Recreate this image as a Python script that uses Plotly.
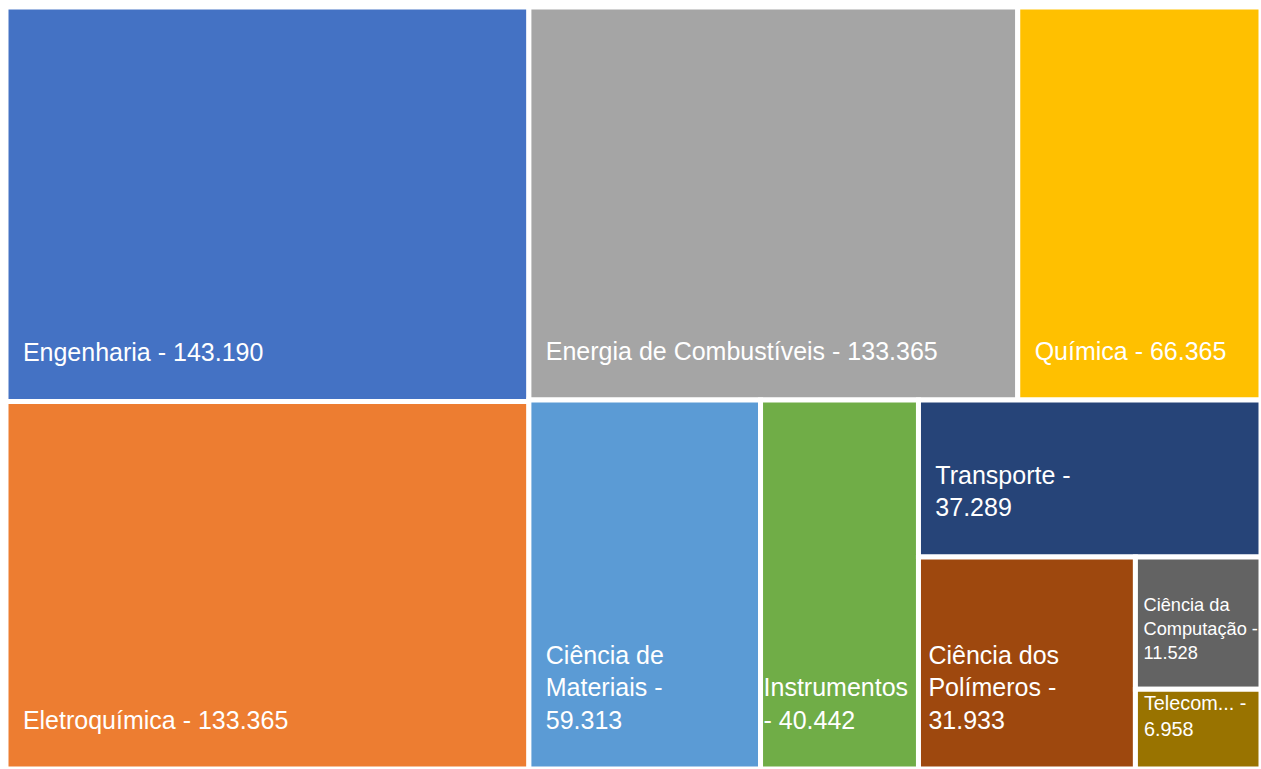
import plotly.graph_objects as go

# Área de pesquisa e número de publicações
areas = [
    "Engenharia",
    "Eletroquímica",
    "Energia de Combustíveis",
    "Química",
    "Ciência de Materiais",
    "Instrumentos",
    "Transporte",
    "Ciência dos Polímeros",
    "Ciência da Computação",
    "Telecomunicações",
]
publicacoes = [143190, 133365, 133365, 66365, 59313, 40442, 37289, 31933, 11528, 6958]

# Rótulos exibidos (quebra de linha nas células estreitas)
rotulos = [
    "&nbsp;&nbsp;Engenharia - ",
    "&nbsp;&nbsp;Eletroquímica - ",
    "&nbsp;&nbsp;Energia de Combustíveis - ",
    "&nbsp;&nbsp;Química - ",
    "&nbsp;&nbsp;Ciência de<br>&nbsp;&nbsp;Materiais -<br>&nbsp;&nbsp;",
    "Instrumentos<br>- ",
    "&nbsp;&nbsp;Transporte -<br>&nbsp;&nbsp;",
    "&nbsp;Ciência dos<br>&nbsp;Polímeros -<br>&nbsp;",
    "&nbsp;Ciência da<br>&nbsp;Computação -<br>&nbsp;",
    "&nbsp;Telecom... -<br>&nbsp;",
]

cores = [
    "#4472C4", "#ED7D31", "#A5A5A5", "#FFC000", "#5B9BD5",
    "#70AD47", "#264478", "#9E480E", "#636363", "#997300",
]

fig = go.Figure(
    go.Treemap(
        labels=areas,
        parents=[""] * len(areas),
        values=publicacoes,
        text=rotulos,
        texttemplate="%{text}%{value:,}<br> ",
        textposition="bottom left",
        textfont=dict(family="Liberation Sans, Arial, sans-serif", size=25, color="white"),
        marker=dict(
            colors=cores,
            line=dict(color="white", width=5),
            pad=dict(t=0, l=0, r=0, b=0),
        ),
        tiling=dict(packing="binary", pad=0),
        pathbar=dict(visible=False),
        hoverinfo="label+value",
    )
)

fig.update_layout(
    width=1261,
    height=769,
    margin=dict(l=5.5, r=0, t=6.5, b=0),
    paper_bgcolor="white",
    separators=",.",
)

fig.write_html("out.html")
